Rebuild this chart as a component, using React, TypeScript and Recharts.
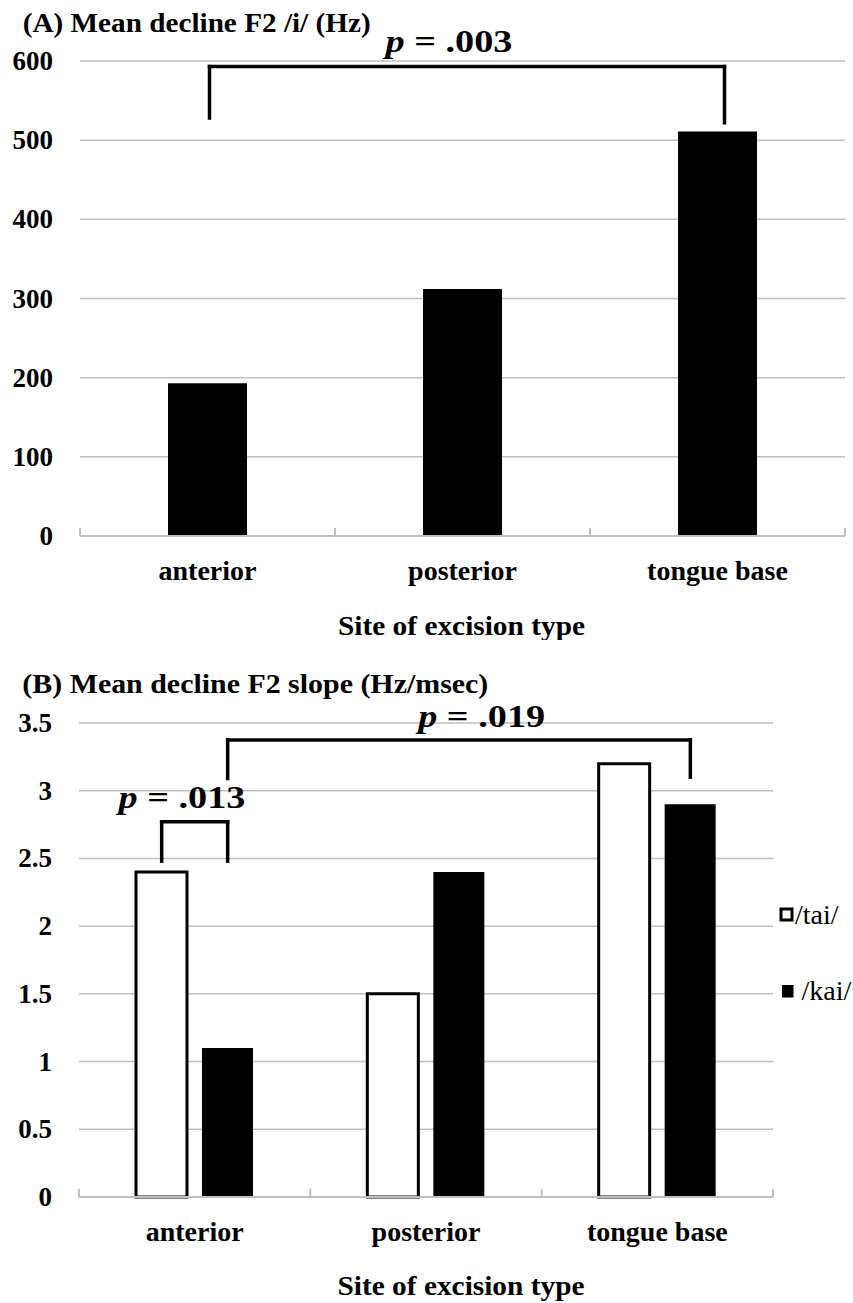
import {
  Bar,
  BarChart,
  CartesianGrid,
  Legend,
  ReferenceLine,
  XAxis,
  YAxis,
} from "recharts";

const SERIF = "'Liberation Serif', 'Times New Roman', Times, serif";
const GRID = "#bfbfbf";
const INK = "#000";

const sites = ["anterior", "posterior", "tongue base"];
const declineF2 = [193, 312, 511];
const slopeTai = [2.4, 1.5, 3.2];
const slopeKai = [1.1, 2.4, 2.9];
const ticksHz = [0, 100, 200, 300, 400, 500, 600];
const ticksSlope = [0, 0.5, 1, 1.5, 2, 2.5, 3, 3.5];

// significance brackets: top of bracket and the ends of its two legs, in data units
const bracketA = { from: "anterior", to: "tongue base", top: 593, footL: 528, footR: 522, p: ".003" };
const bracketB1 = { from: "anterior", to: "anterior", top: 2.77, footL: 2.48, footR: 2.48, p: ".013" };
const bracketB2 = { from: "anterior", to: "tongue base", top: 3.375, footL: 3.09, footR: 3.1, p: ".019" };

const dataA = sites.map((site, i) => ({ site, f2: declineF2[i] }));
const dataB = sites.map((site, i) => ({ site, tai: slopeTai[i], kai: slopeKai[i] }));

const BAND_A = (853 - 80 - 8) / 3;
const BAND_B = (853 - 79 - 80) / 3;
const PAIR = 33; // half of bar + gap in panel B

function ValueTick({ x, y, payload }: any) {
  return (
    <text
      x={x - 27}
      y={y + 9}
      textAnchor="end"
      fontFamily={SERIF}
      fontWeight="bold"
      fontSize={27}
      fill={INK}
    >
      {payload.value}
    </text>
  );
}

function SiteTick({ x, y, payload, index, band, dy }: any) {
  const half = band / 2;
  return (
    <g>
      <line x1={x - half} y1={y} x2={x - half} y2={y - 8} stroke={GRID} strokeWidth={2} />
      {index === sites.length - 1 && (
        <line x1={x + half} y1={y} x2={x + half} y2={y - 8} stroke={GRID} strokeWidth={2} />
      )}
      <text
        x={x}
        y={y + dy}
        textAnchor="middle"
        fontFamily={SERIF}
        fontWeight="bold"
        fontSize={28}
        fill={INK}
      >
        {payload.value}
      </text>
    </g>
  );
}

function AxisTitle({ viewBox, shift, dy }: any) {
  const { x, y, width } = viewBox;
  return (
    <text
      x={x + width / 2 + shift}
      y={y + dy}
      textAnchor="middle"
      fontFamily={SERIF}
      fontWeight="bold"
      fontSize={28}
      textLength={247}
      lengthAdjust="spacingAndGlyphs"
      fill={INK}
    >
      Site of excision type
    </text>
  );
}

function seg(dx1: number, dx2: number) {
  return (props: any) => (
    <line
      x1={props.x1 + dx1}
      y1={props.y1}
      x2={props.x2 + dx2}
      y2={props.y2}
      stroke={INK}
      strokeWidth={3.5}
      strokeLinecap="square"
    />
  );
}

function topSeg(dx1: number, dx2: number, p: string, ldx: number, ldy: number) {
  return (props: any) => {
    const a = props.x1 + dx1;
    const b = props.x2 + dx2;
    return (
      <g>
        <line x1={a} y1={props.y1} x2={b} y2={props.y2} stroke={INK} strokeWidth={3.5} strokeLinecap="square" />
        <text
          x={(a + b) / 2 + ldx}
          y={props.y1 + ldy}
          textAnchor="middle"
          fontFamily={SERIF}
          fontWeight="bold"
          fontSize={32}
          textLength={127}
          lengthAdjust="spacingAndGlyphs"
          fill={INK}
        >
          <tspan fontStyle="italic">p</tspan> = {p}
        </text>
      </g>
    );
  };
}

function bracket(b: any, dxL: number, dxR: number, ldx: number, ldy: number, key: string) {
  return [
    <ReferenceLine
      key={key + "-l"}
      segment={[{ x: b.from, y: b.footL }, { x: b.from, y: b.top }]}
      shape={seg(dxL, dxL)}
    />,
    <ReferenceLine
      key={key + "-r"}
      segment={[{ x: b.to, y: b.top }, { x: b.to, y: b.footR }]}
      shape={seg(dxR, dxR)}
    />,
    <ReferenceLine
      key={key + "-t"}
      segment={[{ x: b.from, y: b.top }, { x: b.to, y: b.top }]}
      shape={topSeg(dxL, dxR, b.p, ldx, ldy)}
    />,
  ];
}

function KeyBox() {
  return (
    <svg width={75} height={130} style={{ overflow: "visible" }}>
      <rect x={3} y={19} width={11} height={11} fill="#fff" stroke={INK} strokeWidth={3} />
      <text x={17} y={34} fontFamily={SERIF} fontSize={28} fill={INK}>
        /tai/
      </text>
      <rect x={4} y={95} width={11.5} height={12.5} fill={INK} />
      <text x={23.5} y={110} fontFamily={SERIF} fontSize={28} fill={INK}>
        /kai/
      </text>
    </svg>
  );
}

export default function App() {
  return (
    <div
      style={{
        position: "absolute",
        left: 0,
        top: 0,
        width: 853,
        height: 1303,
        background: "#fff",
      }}
    >
      <div style={{ position: "absolute", left: 0, top: 0 }}>
        <BarChart
          width={853}
          height={640}
          data={dataA}
          margin={{ top: 61, right: 8, bottom: 0, left: 0 }}
          barSize={79}
        >
          <CartesianGrid vertical={false} stroke={GRID} strokeWidth={1.5} />
          <YAxis
            domain={[0, 600]}
            ticks={ticksHz}
            interval={0}
            width={80}
            axisLine={false}
            tickLine={false}
            tickSize={0}
            tickMargin={0}
            tick={<ValueTick />}
          />
          <XAxis
            dataKey="site"
            height={104}
            interval={0}
            tickLine={false}
            tickSize={0}
            tickMargin={0}
            axisLine={{ stroke: GRID, strokeWidth: 2 }}
            tick={(p: any) => <SiteTick {...p} band={BAND_A} dy={44} />}
            label={{ content: (p: any) => <AxisTitle {...p} shift={-1} dy={99} /> }}
          />
          <Bar dataKey="f2" fill={INK} isAnimationActive={false} />
          {bracket(bracketA, 2, 7, -18, -14.7, "a")}
        </BarChart>
      </div>

      <div style={{ position: "absolute", left: 0, top: 640 }}>
        <BarChart
          width={853}
          height={663}
          data={dataB}
          margin={{ top: 83, right: 80, bottom: 0, left: 0 }}
          barSize={51}
          barGap={15}
        >
          <CartesianGrid vertical={false} stroke={GRID} strokeWidth={1.5} />
          <YAxis
            domain={[0, 3.5]}
            ticks={ticksSlope}
            interval={0}
            width={79}
            axisLine={false}
            tickLine={false}
            tickSize={0}
            tickMargin={0}
            tick={<ValueTick />}
          />
          <XAxis
            dataKey="site"
            height={106}
            interval={0}
            tickLine={false}
            tickSize={0}
            tickMargin={0}
            axisLine={{ stroke: GRID, strokeWidth: 2 }}
            tick={(p: any) => <SiteTick {...p} band={BAND_B} dy={43.5} />}
            label={{ content: (p: any) => <AxisTitle {...p} shift={35} dy={98} /> }}
          />
          <Bar
            dataKey="tai"
            name="/tai/"
            fill="#fff"
            stroke={INK}
            strokeWidth={3}
            isAnimationActive={false}
          />
          <Bar dataKey="kai" name="/kai/" fill={INK} isAnimationActive={false} />
          {bracket(bracketB1, -PAIR, PAIR, -12.7, -13.9, "b1")}
          {bracket(bracketB2, PAIR, PAIR, 22.7, -13.3, "b2")}
          <Legend
            layout="vertical"
            align="center"
            verticalAlign="middle"
            wrapperStyle={{ left: 778, top: 250, width: 75, height: 130 }}
            content={<KeyBox />}
          />
        </BarChart>
      </div>

      <svg
        width={853}
        height={1303}
        style={{ position: "absolute", left: 0, top: 0, pointerEvents: "none" }}
      >
        <text
          x={22.7}
          y={31.7}
          fontFamily={SERIF}
          fontWeight="bold"
          fontSize={28}
          textLength={348}
          lengthAdjust="spacingAndGlyphs"
          fill={INK}
        >
          (A) Mean decline F2 /i/  (Hz)
        </text>
        <text
          x={22.3}
          y={693}
          fontFamily={SERIF}
          fontWeight="bold"
          fontSize={28}
          textLength={466}
          lengthAdjust="spacingAndGlyphs"
          fill={INK}
        >
          (B) Mean decline F2 slope  (Hz/msec)
        </text>
      </svg>
    </div>
  );
}
